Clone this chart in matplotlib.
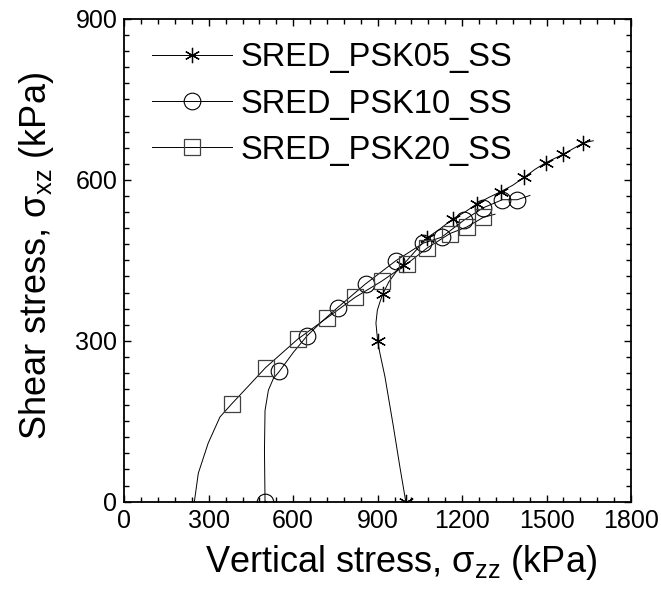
import matplotlib
matplotlib.use("Agg")
import matplotlib.pyplot as plt
from matplotlib.ticker import MultipleLocator

plt.rcParams['font.family'] = ['Liberation Sans', 'DejaVu Sans']
plt.rcParams['mathtext.default'] = 'regular'

# SRED_PSK05_SS : path points, marker indices
x05 = [1000, 979, 956, 926, 908, 900, 894, 899, 908, 918, 940, 965, 991, 1030, 1076,
       1120, 1169, 1210, 1252, 1290, 1337, 1380, 1421, 1460, 1497, 1560, 1631, 1666]
y05 = [0, 65, 140, 233, 277, 300, 333, 357, 372, 387, 410, 428, 442, 465, 492,
       508, 528, 540, 555, 566, 578, 590, 605, 620, 632, 648, 669, 673]
m05 = [0, 5, 9, 12, 14, 16, 18, 20, 22, 24, 25, 26]

# SRED_PSK10_SS
x10 = [500, 498, 500, 512, 530, 551, 600, 649, 700, 758, 857, 964, 1062, 1127,
       1207, 1275, 1343, 1396, 1441]
y10 = [0, 96, 170, 208, 230, 243, 278, 309, 335, 362, 406, 449, 482, 493,
       525, 548, 563, 563, 571]
m10 = [0, 5, 7, 9, 10, 11, 12, 13, 14, 15, 16, 17]

# SRED_PSK20_SS
x20 = [249, 263, 298, 340, 381, 440, 502, 616, 721, 820, 914, 1003, 1076, 1157,
       1216, 1275, 1317]
y20 = [0, 53, 109, 158, 182, 215, 250, 303, 343, 381, 411, 443, 473, 500,
       512, 530, 536]
m20 = [4, 6, 7, 8, 9, 10, 11, 12, 13, 14, 15]

fig = plt.figure(figsize=(6.61, 5.90), dpi=100)
ax = fig.add_axes([0.188, 0.1497, 0.7666, 0.8181])

star = (6, 2, 0)
ax.plot(x05, y05, color='black', lw=0.7, marker=star, markevery=m05, ms=11,
        mec='black', mew=0.9, label='SRED_PSK05_SS')
ax.plot(x10, y10, color='black', lw=0.7, marker='o', markevery=m10, ms=12,
        mfc='none', mec='black', mew=0.8, label='SRED_PSK10_SS')
ax.plot(x20, y20, color='black', lw=0.7, marker='s', markevery=m20, ms=11.5,
        mfc='none', mec='#404040', mew=0.9, label='SRED_PSK20_SS')
ax.plot(x10[0], y10[0], 'k.', ms=3)

ax.set_xlim(0, 1800)
ax.set_ylim(0, 900)
ax.xaxis.set_major_locator(MultipleLocator(300))
ax.xaxis.set_minor_locator(MultipleLocator(60))
ax.yaxis.set_major_locator(MultipleLocator(300))
ax.yaxis.set_minor_locator(MultipleLocator(30))
ax.tick_params(which='both', direction='in', top=True, right=True, labelsize=18, width=1)
ax.tick_params(which='major', length=5, pad=5)
ax.tick_params(which='minor', length=3.5)
for s in ax.spines.values():
    s.set_linewidth(1.3)

ax.set_xlabel('Vertical stress, σ$_{zz}$ (kPa)', fontsize=26)
ax.set_ylabel('Shear stress, σ$_{xz}$ (kPa)', fontsize=26)
ax.xaxis.set_label_coords(0.546, -0.085)
ax.yaxis.set_label_coords(-0.135, 0.508)

ax.legend(loc='upper left', bbox_to_anchor=(0.054, 0.952), frameon=False,
          fontsize=23.5, numpoints=1, handlelength=2.45, handletextpad=0.28,
          labelspacing=0.47, borderpad=0, borderaxespad=0)

fig.savefig('out.png', dpi=100)
